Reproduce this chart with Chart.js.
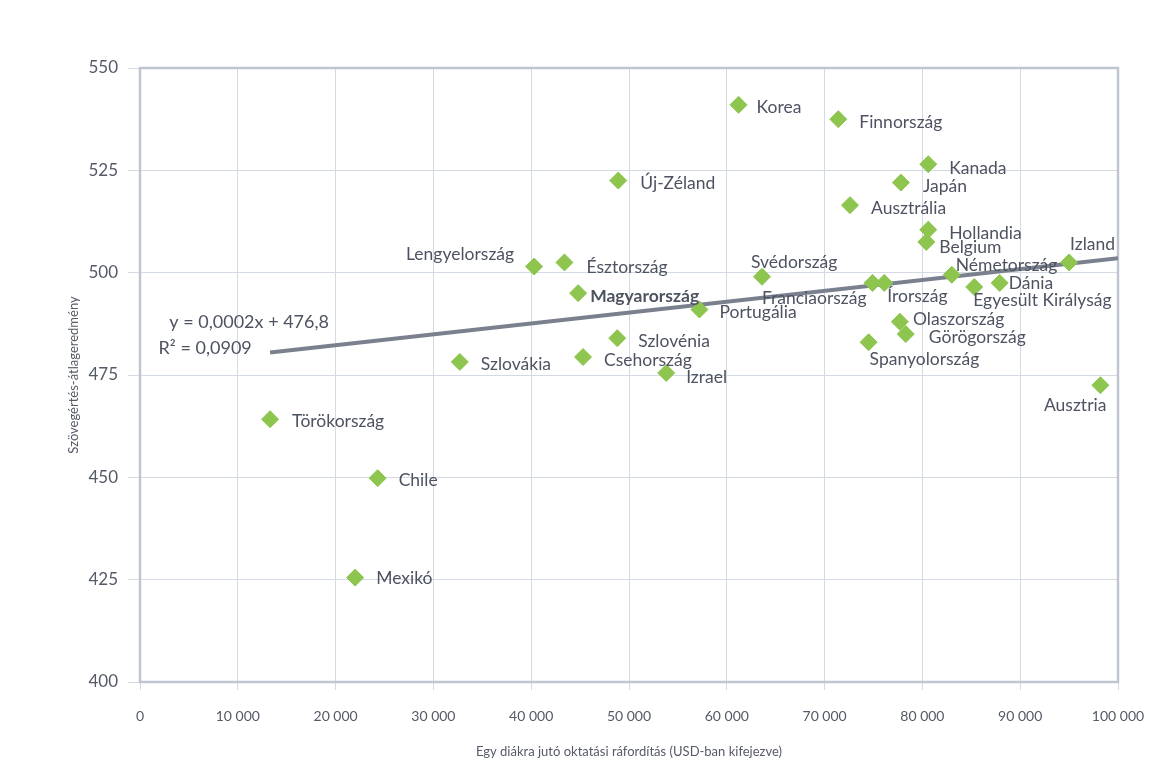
<!DOCTYPE html>
<html>
<head>
<meta charset="utf-8">
<script src="https://cdn.jsdelivr.net/npm/chart.js@4/dist/chart.umd.min.js"></script>
<style>
  html, body { margin: 0; padding: 0; background: #fff; }
  #wrap { width: 1150px; height: 764px; position: relative; }
</style>
</head>
<body>
<div id="wrap"><canvas id="scatterChart"></canvas></div>
<script>
// --- Adatok ---
const countries = [
    'Korea', 'Finnország', 'Új-Zéland', 'Kanada', 'Japán', 'Ausztrália',
    'Hollandia', 'Belgium', 'Izland', 'Németország', 'Dánia', 'Egyesült Királyság',
    'Franciaország', 'Írország', 'Olaszország', 'Görögország', 'Spanyolország', 'Ausztria',
    'Svédország', 'Portugália', 'Magyarország', 'Észtország', 'Lengyelország', 'Szlovénia',
    'Csehország', 'Izrael', 'Szlovákia', 'Törökország', 'Chile', 'Mexikó'
];
const spending = [
    61200, 71400, 48900, 80600, 77800, 72600,
    80600, 80400, 95000, 83000, 87900, 85300,
    74900, 76100, 77700, 78300, 74500, 98200,
    63600, 57200, 44800, 43400, 40300, 48800,
    45300, 53800, 32700, 13300, 24300, 22000
];
const readingScore = [
    541, 537.5, 522.5, 526.5, 522, 516.5,
    510.5, 507.5, 502.5, 499.5, 497.5, 496.5,
    497.5, 497.5, 488, 485, 483, 472.5,
    499, 491, 495, 502.5, 501.5, 484,
    479.4, 475.5, 478.2, 464.2, 449.8, 425.5
];
// trendvonal végpontjai
const trendX = [13300, 100000];
const trendY = [480.5, 503.5];
const xTicks = [0, 10000, 20000, 30000, 40000, 50000, 60000, 70000, 80000, 90000, 100000];
const yTicks = [400, 425, 450, 475, 500, 525, 550];
const equationText = ['y = 0,0002x + 476,8', 'R² = 0,0909'];

// --- Feliratok elhelyezése (igazítás, dx, dy) ---
const labelPlacement = {
    'Korea': ['left', 18, 3], 'Finnország': ['left', 21, 3], 'Új-Zéland': ['left', 22, 3],
    'Kanada': ['left', 21, 4], 'Japán': ['left', 22, 4], 'Ausztrália': ['left', 21, 3],
    'Hollandia': ['left', 21, 4], 'Belgium': ['left', 13, 5], 'Izland': ['left', 1, -18],
    'Németország': ['left', 4, -9], 'Dánia': ['left', 9, 0], 'Egyesült Királyság': ['left', -1, 13],
    'Franciaország': ['right', -6, 15], 'Írország': ['left', 3, 13], 'Olaszország': ['left', 13, -2],
    'Görögország': ['left', 23, 3], 'Spanyolország': ['left', 1, 17], 'Ausztria': ['right', 6, 20],
    'Svédország': ['left', -11, -14], 'Portugália': ['left', 20, 3], 'Magyarország': ['left', 12, 3],
    'Észtország': ['left', 22, 5], 'Lengyelország': ['right', -20, -12], 'Szlovénia': ['left', 21, 3],
    'Csehország': ['left', 21, 3], 'Izrael': ['left', 20, 4], 'Szlovákia': ['left', 21, 2],
    'Törökország': ['left', 22, 2], 'Chile': ['left', 21, 2], 'Mexikó': ['left', 21, 1]
};

const fontFamily = 'Lato, "Open Sans", sans-serif';
const textColor = '#4e5361';

const formatThousands = v => String(v).replace(/\B(?=(\d{3})+(?!\d))/g, ' ');

// --- Pont-feliratok és egyenlet rajzolása ---
const labelPlugin = {
    id: 'countryLabels',
    afterDatasetsDraw(chart) {
        const ctx = chart.ctx;
        const meta = chart.getDatasetMeta(1);
        ctx.save();
        ctx.fillStyle = textColor;
        ctx.textBaseline = 'middle';
        meta.data.forEach((pt, i) => {
            const name = countries[i];
            const p = labelPlacement[name] || ['left', 20, 3];
            ctx.font = (name === 'Magyarország' ? 'bold ' : '') + '17.5px ' + fontFamily;
            ctx.textAlign = p[0];
            ctx.fillText(name, pt.x + p[1], pt.y + p[2]);
        });
        // regressziós egyenlet
        const xs = chart.scales.x, ys = chart.scales.y;
        ctx.font = '18px ' + fontFamily;
        ctx.textAlign = 'left';
        ctx.fillText(equationText[0], xs.getPixelForValue(3000), ys.getPixelForValue(488));
        ctx.fillText(equationText[1], xs.getPixelForValue(1900), ys.getPixelForValue(481.6));
        ctx.restore();
    }
};

// --- Keret a rajzterület körül ---
const framePlugin = {
    id: 'frame',
    beforeDatasetsDraw(chart) {
        const a = chart.chartArea;
        const ctx = chart.ctx;
        ctx.save();
        ctx.strokeStyle = '#bfc6d1';
        ctx.lineWidth = 2.5;
        ctx.strokeRect(a.left, a.top, a.right - a.left, a.bottom - a.top);
        ctx.restore();
    }
};

const ctx = document.getElementById('scatterChart');
new Chart(ctx, {
    type: 'scatter',
    data: {
        datasets: [
            {
                type: 'line',
                label: 'Trend',
                data: trendX.map((x, i) => ({ x: x, y: trendY[i] })),
                borderColor: '#7b808f',
                borderWidth: 4,
                pointRadius: 0,
                fill: false,
                order: 2
            },
            {
                label: 'Országok',
                data: spending.map((x, i) => ({ x: x, y: readingScore[i] })),
                backgroundColor: '#8dc54f',
                borderColor: '#8dc54f',
                pointStyle: 'rectRot',
                pointRadius: 8.5,
                pointHoverRadius: 8.5,
                order: 1
            }
        ]
    },
    plugins: [framePlugin, labelPlugin],
    options: {
        responsive: true,
        maintainAspectRatio: false,
        animation: false,
        layout: { padding: { left: 62, top: 68, right: 32, bottom: 0 } },
        plugins: {
            legend: { display: false },
            tooltip: { enabled: false }
        },
        scales: {
            x: {
                type: 'linear',
                min: 0,
                max: 100000,
                afterBuildTicks: s => { s.ticks = xTicks.map(v => ({ value: v })); },
                afterFit: s => {
                    s.height = 82;
                    s.paddingLeft = 0;
                    s.paddingRight = 0;
                },
                grid: { color: '#d3dae4', lineWidth: 1, tickLength: 8 },
                border: { display: false },
                ticks: {
                    color: '#555a66',
                    padding: 18,
                    font: { family: fontFamily, size: 14 },
                    callback: v => formatThousands(v)
                },
                title: {
                    display: true,
                    text: 'Egy diákra jutó oktatási ráfordítás (USD-ban kifejezve)',
                    color: '#555a66',
                    font: { family: fontFamily, size: 13 },
                    padding: { top: 0, bottom: 4 }
                }
            },
            y: {
                type: 'linear',
                min: 400,
                max: 550,
                afterBuildTicks: s => { s.ticks = yTicks.map(v => ({ value: v })); },
                afterFit: s => {
                    s.width = 78;
                    s.paddingTop = 0;
                    s.paddingBottom = 0;
                },
                grid: { color: '#d3dae4', lineWidth: 1, tickLength: 12 },
                border: { display: false },
                ticks: {
                    color: '#555a66',
                    padding: 10,
                    font: { family: fontFamily, size: 17 }
                },
                title: {
                    display: true,
                    text: 'Szövegértés-átlageredmény',
                    color: '#555a66',
                    font: { family: fontFamily, size: 13 },
                    padding: { top: 4, bottom: 0 }
                }
            }
        }
    }
});
</script>
</body>
</html>
